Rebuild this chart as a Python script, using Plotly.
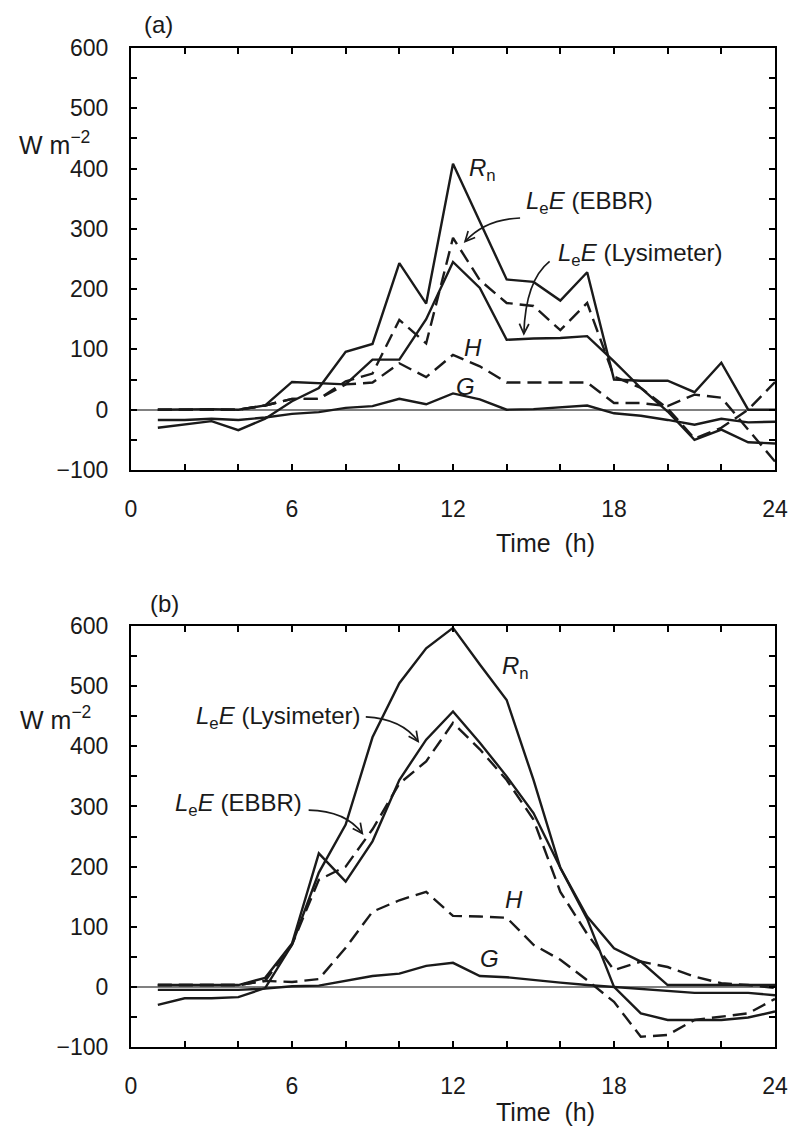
import math
import plotly.graph_objects as go

# ---------------- data ----------------
hours = list(range(1, 25))

# panel (a)
a_rn = [-30, -25, -19, -34, -15, 14, 36, 96, 109, 243, 176, 408, 312, 216, 212, 181, 228, 50, 48, 48, 29, 78, 0, 0]
a_le_lys = [0, 1, 1, 0, 7, 46, 44, 42, 83, 83, 150, 245, 202, 116, 118, 119, 122, 80, 36, -3, -50, -33, -54, -56]
a_le_ebbr = [0, 0, 0, 0, 7, 18, 18, 47, 60, 149, 110, 285, 215, 177, 172, 132, 177, 55, 36, 2, -48, -30, 0, 46]
a_h = [0, 0, 0, 0, 7, 18, 18, 42, 45, 77, 54, 91, 72, 45, 45, 45, 45, 11, 11, 6, 25, 20, -33, -86]
a_g = [-17, -17, -15, -17, -13, -7, -4, 3, 6, 18, 9, 27, 17, 0, 1, 4, 7, -6, -10, -17, -25, -15, -21, -20]

# panel (b)
b_rn = [-30, -19, -19, -17, -2, 70, 190, 270, 415, 505, 563, 597, 536, 477, 344, 198, 113, 0, -44, -55, -55, -55, -51, -41]
b_le_lys = [3, 3, 3, 3, 15, 72, 222, 175, 242, 344, 411, 458, 406, 350, 289, 198, 117, 64, 42, 3, 3, 3, 3, 3]
b_le_ebbr = [3, 3, 3, 3, 10, 70, 178, 200, 262, 338, 375, 439, 395, 344, 278, 158, 88, 28, 42, 33, 17, 6, 3, -2]
b_h = [3, 3, 3, 3, 10, 8, 13, 65, 125, 144, 158, 118, 117, 115, 70, 45, 11, -25, -83, -80, -55, -50, -44, -20]
b_g = [-5, -5, -5, -5, -3, 1, 2, 10, 18, 22, 35, 40, 18, 16, 11, 7, 3, 0, -3, -6, -10, -10, -10, -14]

# ---------------- layout constants ----------------
FONT = "Liberation Sans, Arial, Helvetica, sans-serif"
W, H = 800, 1133
ML, MR, MT, MB = 131, 15, 48, 86
PW = W - ML - MR
PH = H - MT - MB
A_DOM = [0.5776, 1.0]
B_DOM = [0.0, 0.4214]
XR = [0, 24]
YR = [-100, 600]

DASH = "14px,7px"
LW = 2.4

fig = go.Figure()


def add_panel(xa, ya, rn, lys, ebbr, hh, gg):
    series = [
        (rn, "solid", "Rn"),
        (lys, "solid", "LeE lysimeter"),
        (ebbr, DASH, "LeE EBBR"),
        (hh, DASH, "H"),
        (gg, "solid", "G"),
    ]
    for vals, dash, name in series:
        fig.add_trace(go.Scatter(
            x=hours, y=vals, mode="lines", name=name, xaxis=xa, yaxis=ya,
            line=dict(color="#1a1a1a", width=LW, dash=dash), showlegend=False,
            hoverinfo="skip"))


add_panel("x", "y", a_rn, a_le_lys, a_le_ebbr, a_h, a_g)
add_panel("x2", "y2", b_rn, b_le_lys, b_le_ebbr, b_h, b_g)

axis_common = dict(
    showline=True, linecolor="black", linewidth=2, mirror="ticks",
    ticks="inside", ticklen=6, tickwidth=1.6, tickcolor="black",
    showgrid=False, tickfont=dict(family=FONT, size=23, color="#1a1a1a"),
)
x_common = dict(range=XR, tick0=0, dtick=6, zeroline=False,
                minor=dict(ticks="inside", dtick=2, ticklen=6, tickwidth=1.6,
                           tickcolor="black", showgrid=False),
                **axis_common)
y_common = dict(range=YR, tick0=0, dtick=100,
                zeroline=True, zerolinecolor="#808080", zerolinewidth=1.5,
                minor=dict(ticks="inside", dtick=50, ticklen=6, tickwidth=1.6,
                           tickcolor="black", showgrid=False),
                ticklabelstandoff=16, **axis_common)

fig.update_layout(
    width=W, height=H,
    margin=dict(l=ML, r=MR, t=MT, b=MB),
    paper_bgcolor="white", plot_bgcolor="white",
    showlegend=False,
    xaxis=dict(domain=[0, 1], anchor="y", ticklabelstandoff=17, **x_common),
    yaxis=dict(domain=A_DOM, anchor="x", **y_common),
    xaxis2=dict(domain=[0, 1], anchor="y2", ticklabelstandoff=17, **x_common),
    yaxis2=dict(domain=B_DOM, anchor="x2", **y_common),
)

# pixel scales for arrow heads
SX = PW / (XR[1] - XR[0])
SY_A = PH * (A_DOM[1] - A_DOM[0]) / (YR[1] - YR[0])
SY_B = PH * (B_DOM[1] - B_DOM[0]) / (YR[1] - YR[0])

shapes = []
annotations = []


def curved_arrow(xref, yref, sy, p0, c, p1):
    shapes.append(dict(
        type="path", xref=xref, yref=yref,
        path=f"M {p0[0]},{p0[1]} Q {c[0]},{c[1]} {p1[0]},{p1[1]}",
        line=dict(color="#1a1a1a", width=1.7)))
    dx = (p1[0] - c[0]) * SX
    dy = -(p1[1] - c[1]) * sy
    n = math.hypot(dx, dy)
    ux, uy = dx / n, dy / n
    L, ang = 11, math.radians(26)
    pts = []
    for s in (1, -1):
        ca, sa = math.cos(s * ang), math.sin(s * ang)
        bx, by = -ux, -uy
        rx, ry = bx * ca - by * sa, bx * sa + by * ca
        pts.append((p1[0] + rx * L / SX, p1[1] - ry * L / sy))
    shapes.append(dict(
        type="path", xref=xref, yref=yref,
        path=f"M {pts[0][0]},{pts[0][1]} L {p1[0]},{p1[1]} L {pts[1][0]},{pts[1][1]}",
        line=dict(color="#1a1a1a", width=1.7)))


def label(xref, yref, x, y, text, size=24, xanchor="center"):
    annotations.append(dict(
        xref=xref, yref=yref, x=x, y=y, text=text, showarrow=False,
        xanchor=xanchor, yanchor="middle",
        font=dict(family=FONT, size=size, color="#1a1a1a")))


LE = "<i>L</i><sub>e</sub><i>E</i>"

# panel (a) labels
label("x", "y", 13.1, 398, "<i>R</i><sub>n</sub>")
label("x", "y", 17.1, 343, LE + " (EBBR)")
label("x", "y", 19.0, 257, LE + " (Lysimeter)")
label("x", "y", 12.73, 103, "<i>H</i>")
label("x", "y", 12.48, 38, "<i>G</i>")
curved_arrow("x", "y", SY_A, (14.5, 318), (13.2, 316), (12.45, 279))
curved_arrow("x", "y", SY_A, (15.6, 246), (14.7, 214), (14.64, 126))

# panel (b) labels
label("x2", "y2", 14.34, 531, "<i>R</i><sub>n</sub>")
label("x2", "y2", 5.48, 448, LE + " (Lysimeter)")
label("x2", "y2", 4.0, 303, LE + " (EBBR)")
label("x2", "y2", 14.26, 145, "<i>H</i>")
label("x2", "y2", 13.35, 47, "<i>G</i>")
curved_arrow("x2", "y2", SY_B, (8.75, 449), (10.1, 446), (10.7, 408))
curved_arrow("x2", "y2", SY_B, (6.62, 294), (8.0, 293), (8.62, 255))


def paper(xp, yp):
    return (xp - ML) / PW, (H - MB - yp) / PH


for (px, py), txt in [((159, 24), "(a)"), ((165, 603), "(b)")]:
    xx, yy = paper(px, py)
    annotations.append(dict(xref="paper", yref="paper", x=xx, y=yy, text=txt,
                            showarrow=False, xanchor="center", yanchor="middle",
                            font=dict(family=FONT, size=24, color="#1a1a1a")))
for (px, py) in [(53, 143), (54, 718)]:
    xx, yy = paper(px, py)
    annotations.append(dict(xref="paper", yref="paper", x=xx, y=yy,
                            text="W m<sup>\u22122</sup>", showarrow=False,
                            xanchor="center", yanchor="middle",
                            font=dict(family=FONT, size=25, color="#1a1a1a")))
for (px, py) in [(552, 543), (552, 1112)]:
    xx, yy = paper(px, py)
    annotations.append(dict(xref="paper", yref="paper", x=xx, y=yy,
                            text="Time\u00a0\u00a0(h)", showarrow=False,
                            xanchor="center", yanchor="middle",
                            font=dict(family=FONT, size=25, color="#1a1a1a")))

fig.update_layout(shapes=shapes, annotations=annotations)
fig.write_html("out.html")
